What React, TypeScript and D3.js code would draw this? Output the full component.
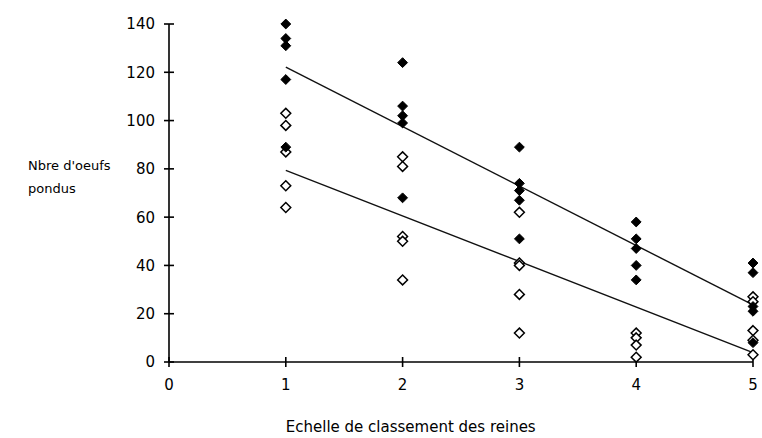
import React from "react";
import * as d3 from "d3";

const xTicks = [0, 1, 2, 3, 4, 5];
const yTicks = [0, 20, 40, 60, 80, 100, 120, 140];

// Filled diamonds
const filledX = [1, 1, 1, 1, 1, 2, 2, 2, 2, 2, 3, 3, 3, 3, 3, 4, 4, 4, 4, 4, 5, 5, 5, 5, 5];
const filledY = [140, 134, 131, 117, 89, 124, 106, 102, 99, 68, 89, 74, 71, 67, 51, 58, 51, 47, 40, 34, 41, 37, 23, 21, 8];

// Hollow diamonds
const hollowX = [1, 1, 1, 1, 1, 2, 2, 2, 2, 2, 3, 3, 3, 3, 3, 4, 4, 4, 4, 5, 5, 5, 5, 5];
const hollowY = [103, 98, 87, 73, 64, 85, 81, 52, 50, 34, 62, 41, 40, 28, 12, 12, 10, 7, 2, 27, 25, 13, 9, 3];

const W = 762;
const H = 438;
const x = d3.scaleLinear().domain([0, 5]).range([169, 753]);
const y = d3.scaleLinear().domain([0, 140]).range([362, 24]);

function fit(xs: number[], ys: number[]) {
  const mx = d3.mean(xs) as number;
  const my = d3.mean(ys) as number;
  let num = 0;
  let den = 0;
  xs.forEach((v, i) => {
    num += (v - mx) * (ys[i] - my);
    den += (v - mx) * (v - mx);
  });
  const b = num / den;
  const a = my - b * mx;
  return [1, 5].map((v) => [v, a + b * v] as [number, number]);
}

const line = d3
  .line<[number, number]>()
  .x((d) => x(d[0]))
  .y((d) => y(d[1]));

const diamond = d3.symbol(d3.symbolDiamond2, 62)();

const font = "'DejaVu Sans', Verdana, sans-serif";

export default function App() {
  const fitA = fit(filledX, filledY);
  const fitB = fit(hollowX, hollowY);
  return (
    <svg
      width={W}
      height={H}
      style={{ position: "absolute", left: 0, top: 0, background: "#fff" }}
      fontFamily={font}
    >
      {/* Y axis */}
      <line x1={x(0)} x2={x(0)} y1={y(140)} y2={y(0)} stroke="#000" strokeWidth={1.6} />
      {yTicks.map((t) => (
        <g key={"y" + t}>
          <line x1={x(0) - 5} x2={x(0) + 5} y1={y(t)} y2={y(t)} stroke="#000" strokeWidth={1.6} />
          <text x={155} y={y(t)} dy="0.36em" textAnchor="end" fontSize={15} fill="#000">
            {t}
          </text>
        </g>
      ))}
      {/* X axis */}
      <line x1={x(0)} x2={x(5)} y1={y(0)} y2={y(0)} stroke="#000" strokeWidth={1.6} />
      {xTicks.map((t) => (
        <g key={"x" + t}>
          <line x1={x(t)} x2={x(t)} y1={y(0) - 5} y2={y(0) + 5} stroke="#000" strokeWidth={1.6} />
          <text x={x(t)} y={390} textAnchor="middle" fontSize={15} fill="#000">
            {t}
          </text>
        </g>
      ))}
      {/* Regression lines */}
      <path d={line(fitA) || ""} fill="none" stroke="#111" strokeWidth={1.4} />
      <path d={line(fitB) || ""} fill="none" stroke="#111" strokeWidth={1.4} />
      {/* Hollow points */}
      {hollowX.map((v, i) => (
        <path
          key={"h" + i}
          d={diamond || ""}
          transform={`translate(${x(v)},${y(hollowY[i])})`}
          fill="#fff"
          stroke="#000"
          strokeWidth={1.5}
        />
      ))}
      {/* Filled points */}
      {filledX.map((v, i) => (
        <path
          key={"f" + i}
          d={diamond || ""}
          transform={`translate(${x(v)},${y(filledY[i])})`}
          fill="#000"
          stroke="#000"
          strokeWidth={1}
        />
      ))}
      {/* Axis titles */}
      <text x={28} y={170} fontSize={13} fill="#000">Nbre d'oeufs</text>
      <text x={28} y={193} fontSize={13} fill="#000">pondus</text>
      <text x={x(1)} y={432} fontSize={15} fill="#000">
        Echelle de classement des reines
      </text>
    </svg>
  );
}
